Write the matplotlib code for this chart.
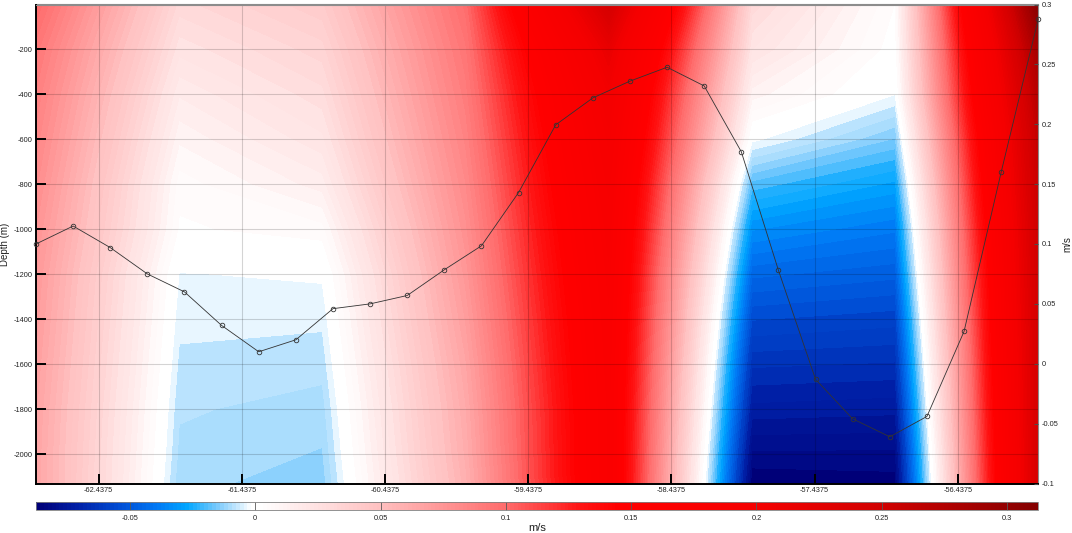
import numpy as np
import matplotlib
matplotlib.use("Agg")
import matplotlib.pyplot as plt
from matplotlib.colors import LinearSegmentedColormap, Normalize
from matplotlib.cm import ScalarMappable

plt.rcParams['font.family'] = ['Liberation Sans', 'DejaVu Sans']

# ---------------- data: velocity section (m/s) ----------------
lon_grid = [-62.875, -61.875, -60.875, -59.875, -58.875, -57.875, -56.875, -55.875]
depth_grid = [0, -200, -400, -600, -800, -1000, -1200, -1400, -1600, -1800, -2000, -2130]

vel_lon_m62_875 = [0.100, 0.092, 0.087, 0.083, 0.079, 0.075, 0.072, 0.070, 0.068, 0.066, 0.065, 0.065]
vel_lon_m61_875 = [0.030, 0.023, 0.016, 0.010, 0.0045, 0.0025, -0.0033, -0.0052, -0.0071, -0.0089, -0.0103, -0.0115]
vel_lon_m60_875 = [0.040, 0.033, 0.027, 0.021, 0.014, 0.005, -0.0025, -0.0055, -0.0082, -0.0108, -0.0128, -0.0142]
vel_lon_m59_875 = [0.098, 0.093, 0.089, 0.085, 0.081, 0.077, 0.073, 0.069, 0.065, 0.062, 0.060, 0.058]
vel_lon_m58_875 = [0.245, 0.215, 0.200, 0.192, 0.186, 0.181, 0.177, 0.174, 0.172, 0.170, 0.170, 0.170]
vel_lon_m57_875 = [0.030, 0.022, 0.011, -0.002, -0.020, -0.034, -0.046, -0.056, -0.065, -0.073, -0.082, -0.087]
vel_lon_m56_875 = [0.003, 0.001, -0.003, -0.016, -0.029, -0.040, -0.049, -0.058, -0.066, -0.074, -0.082, -0.086]
vel_lon_m55_875 = [0.310, 0.285, 0.270, 0.260, 0.255, 0.250, 0.247, 0.245, 0.243, 0.242, 0.241, 0.240]

# ---------------- data: overlaid line (right axis, m/s) ----------------
line_lon = [-62.8750, -62.6157, -62.3565, -62.0972, -61.8380, -61.5787, -61.3194,
            -61.0602, -60.8009, -60.5417, -60.2824, -60.0231, -59.7639, -59.5046,
            -59.2454, -58.9861, -58.7269, -58.4676, -58.2083, -57.9491, -57.6898,
            -57.4306, -57.1713, -56.9120, -56.6528, -56.3935, -56.1343, -55.8750]
line_vel = [0.100, 0.115, 0.097, 0.075, 0.060, 0.032, 0.010,
            0.020, 0.046, 0.050, 0.057, 0.0785, 0.0985, 0.143,
            0.1995, 0.222, 0.236, 0.2476, 0.232, 0.177, 0.078,
            -0.013, -0.046, -0.061, -0.044, 0.027, 0.160, 0.288]

# ---------------- ticks / labels ----------------
x_ticks = [-62.4375, -61.4375, -60.4375, -59.4375, -58.4375, -57.4375, -56.4375]
x_tick_labels = ['-62.4375', '-61.4375', '-60.4375', '-59.4375', '-58.4375', '-57.4375', '-56.4375']
top_tick_lons = [-62.0972, -60.8009, -59.5046, -58.2083, -56.9120]
depth_ticks = [-2000, -1800, -1600, -1400, -1200, -1000, -800, -600, -400, -200]
depth_tick_labels = ['-2000', '-1800', '-1600', '-1400', '-1200', '-1000', '-800', '-600', '-400', '-200']
right_ticks = [-0.1, -0.05, 0, 0.05, 0.1, 0.15, 0.2, 0.25, 0.3]
right_tick_labels = ['-0.1', '-0.05', '0', '0.05', '0.1', '0.15', '0.2', '0.25', '0.3']
cbar_ticks = [-0.05, 0, 0.05, 0.1, 0.15, 0.2, 0.25, 0.3]
cbar_tick_labels = ['-0.05', '0', '0.05', '0.1', '0.15', '0.2', '0.25', '0.3']

vmin, vmax = -0.0875, 0.3125

# colormap nodes (value -> colour)
cmap_values = [-0.0875, -0.072, -0.055, -0.04, -0.028, -0.015, -0.002, 0.002,
               0.05, 0.10, 0.13, 0.145, 0.20, 0.25, 0.3125]
cmap_colors = [(0.0, 0.0, 0.47), (0.0, 0.12, 0.65), (0.0, 0.3, 0.83), (0.0, 0.47, 0.96),
               (0.0, 0.65, 1.0), (0.5, 0.8, 0.99), (1.0, 1.0, 1.0), (1.0, 1.0, 1.0),
               (1.0, 0.75, 0.75), (1.0, 0.42, 0.42), (1.0, 0.08, 0.08), (1.0, 0.0, 0.0),
               (0.96, 0.0, 0.0), (0.82, 0.0, 0.0), (0.52, 0.0, 0.0)]
cmap = LinearSegmentedColormap.from_list(
    'bwr_custom', [((v - vmin) / (vmax - vmin), c) for v, c in zip(cmap_values, cmap_colors)], N=256)
norm = Normalize(vmin=vmin, vmax=vmax)

# ---------------- figure ----------------
W, H = 1072, 533
fig = plt.figure(figsize=(W / 100, H / 100), dpi=100)
ax = fig.add_axes([36 / W, 1 - 483.5 / H, 1002.3 / W, 479 / H])

Z = np.column_stack([vel_lon_m62_875, vel_lon_m61_875, vel_lon_m60_875, vel_lon_m59_875,
                     vel_lon_m58_875, vel_lon_m57_875, vel_lon_m56_875, vel_lon_m55_875])
X, Y = np.meshgrid(lon_grid, depth_grid)
levels = np.linspace(vmin, vmax, 129)
ax.contourf(X, Y, Z, levels=levels, cmap=cmap, norm=norm, antialiased=False)

ax.set_xlim(-62.875, -55.875)
ax.set_ylim(-2131, -2)
ax.set_xticks(x_ticks, labels=x_tick_labels)
ax.set_yticks(depth_ticks, labels=depth_tick_labels)
ax.grid(True, color='k', alpha=0.17, linewidth=0.8)
ax.tick_params(axis='both', direction='in', length=7, width=1.4, color='k',
               labelsize=5.3, pad=2.5, labelcolor='#222222')
for s in ['left', 'bottom']:
    ax.spines[s].set_linewidth(1.4)
    ax.spines[s].set_color('k')
for s in ['top', 'right']:
    ax.spines[s].set_linewidth(0.8)
    ax.spines[s].set_color('0.55')
ax.set_ylabel('Depth (m)', fontsize=7, color='#222222')
ax.yaxis.set_label_coords(-0.0255, 0.5)

secax = ax.secondary_xaxis('top')
secax.set_xticks(top_tick_lons, labels=[''] * len(top_tick_lons))
secax.tick_params(direction='in', length=7, width=0.8, color='0.4')
secax.spines['top'].set_color('0.55')
secax.spines['top'].set_linewidth(0.8)

ax2 = ax.twinx()
ax2.plot(line_lon, line_vel, '-o', color='0.2', lw=0.6, ms=3.3, mfc='none', mew=0.6, clip_on=False)
ax2.set_ylim(-0.1, 0.3)
ax2.set_yticks(right_ticks, labels=right_tick_labels)
ax2.tick_params(axis='y', direction='in', length=3, width=0.8, color='0.3',
                labelsize=5.3, pad=2.5, labelcolor='#222222')
for s in ['top', 'right', 'left', 'bottom']:
    ax2.spines[s].set_visible(False)
ax2.set_ylabel('m/s', fontsize=7, color='#222222')
ax2.yaxis.set_label_coords(1.0245, 0.5)

# ---------------- colorbar ----------------
cax = fig.add_axes([36 / W, 1 - 509.5 / H, 1002.3 / W, 8 / H])
sm = ScalarMappable(norm=norm, cmap=cmap)
cb = fig.colorbar(sm, cax=cax, orientation='horizontal')
cb.set_ticks(cbar_ticks, labels=cbar_tick_labels)
cax.tick_params(direction='in', length=5.8, width=0.6, color='0.35',
                labelsize=5.3, pad=4, labelcolor='#222222')
cb.outline.set_edgecolor('0.5')
cb.outline.set_linewidth(0.6)
cb.set_label('m/s', fontsize=8, labelpad=1, color='#222222')

fig.savefig('out.png', dpi=100)
